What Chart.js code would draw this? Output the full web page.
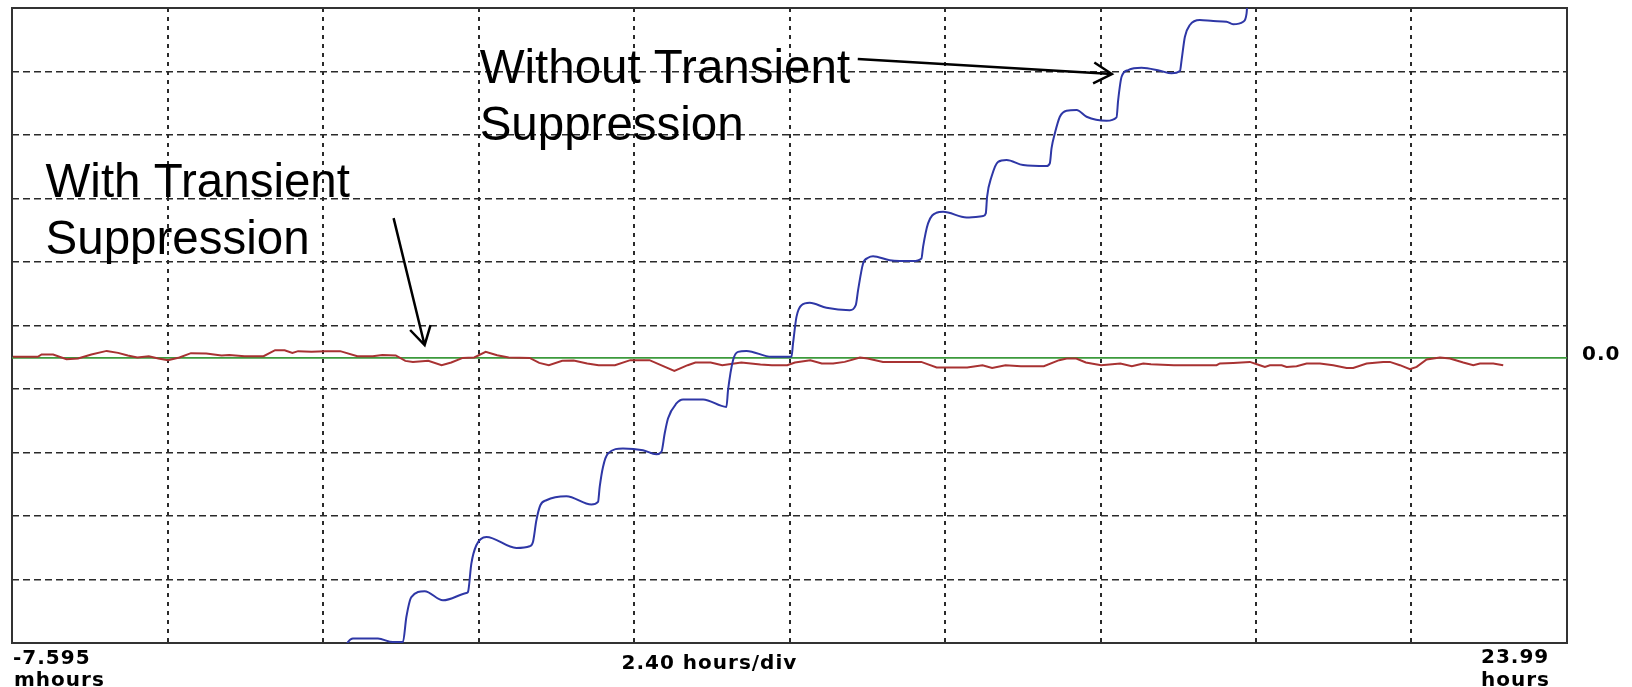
<!DOCTYPE html>
<html>
<head>
<meta charset="utf-8">
<script src="https://cdn.jsdelivr.net/npm/chart.js@4.4.1/dist/chart.umd.min.js"></script>
<style>
  html, body { margin: 0; padding: 0; background: #fff; }
  #wrap { width: 1632px; height: 687px; }
</style>
</head>
<body>
<div id="wrap"><canvas id="myChart" width="1632" height="687"></canvas></div>
<script>
// time axis in hours: -7.595 mhours .. 23.99 hours, 2.40 hours/div
const xStart = -0.007595;
const hoursPerDiv = 2.4;
const xDivs = 10;
// vertical axis in divisions, the 0.0 level sits 5.51 div below the top
const yTop = 5.51;
const yDivs = 10;

// without transient suppression (blue)
const blueHours = [5.141, 5.177, 5.254, 5.640, 5.872, 6.026, 6.079, 6.156, 6.361, 6.644,
  7.005, 7.030, 7.082, 7.159, 7.314, 7.777, 7.982, 8.033, 8.086, 8.147,
  8.240, 8.549, 8.935, 9.037, 9.063, 9.114, 9.191, 9.422, 9.731, 9.938,
  10.015, 10.066, 10.117, 10.247, 10.349, 10.658, 11.019, 11.044, 11.121, 11.198,
  11.328, 11.714, 12.022, 12.047, 12.100, 12.177, 12.305, 12.563, 12.923, 13.015,
  13.051, 13.128, 13.205, 13.282, 13.540, 13.900, 14.029, 14.054, 14.131, 14.261,
  14.363, 14.725, 14.981, 15.022, 15.042, 15.110, 15.212, 15.342, 15.598, 15.959,
  16.010, 16.037, 16.088, 16.165, 16.268, 16.423, 16.577, 16.886, 17.040, 17.065,
  17.118, 17.219, 17.426, 17.709, 17.889, 18.018, 18.044, 18.095, 18.172, 18.326,
  18.532, 18.738, 18.840, 18.995, 19.047, 19.059];
const blueLevel = [-4.542, -4.475, -4.421, -4.421, -4.475, -4.475, -4.081, -3.766, -3.676, -3.818,
  -3.703, -3.687, -3.239, -2.951, -2.820, -2.994, -2.967, -2.899, -2.557, -2.321,
  -2.242, -2.179, -2.310, -2.269, -2.032, -1.717, -1.506, -1.427, -1.454, -1.517,
  -1.481, -1.191, -0.955, -0.718, -0.655, -0.655, -0.772, -0.509, -0.036, 0.095,
  0.110, 0.016, 0.016, 0.227, 0.646, 0.830, 0.867, 0.788, 0.752, 0.830,
  1.067, 1.487, 1.576, 1.602, 1.539, 1.524, 1.566, 1.749, 2.118, 2.285,
  2.300, 2.212, 2.233, 2.275, 2.537, 2.852, 3.088, 3.115, 3.036, 3.020,
  3.063, 3.304, 3.536, 3.797, 3.892, 3.903, 3.797, 3.734, 3.788, 4.060,
  4.427, 4.533, 4.569, 4.522, 4.481, 4.517, 4.690, 5.058, 5.242, 5.321,
  5.305, 5.294, 5.253, 5.294, 5.426, 5.589];

// with transient suppression (red)
const redHours = [0.006, 0.391, 0.449, 0.627, 0.834, 1.011, 1.217, 1.454, 1.630, 1.779,
  1.927, 2.104, 2.251, 2.399, 2.577, 2.754, 2.991, 3.227, 3.344, 3.582,
  3.875, 4.053, 4.200, 4.320, 4.408, 4.615, 4.822, 5.058, 5.323, 5.560,
  5.708, 5.915, 6.063, 6.180, 6.417, 6.623, 6.772, 6.949, 7.127, 7.303,
  7.480, 7.658, 7.982, 8.130, 8.278, 8.485, 8.661, 8.870, 9.046, 9.299,
  9.535, 9.832, 10.008, 10.215, 10.421, 10.540, 10.776, 10.954, 11.249, 11.544,
  11.721, 11.958, 12.076, 12.313, 12.490, 12.666, 12.844, 13.080, 13.199, 13.435,
  13.613, 14.026, 14.263, 14.735, 14.971, 15.120, 15.326, 15.563, 15.918, 16.154,
  16.271, 16.419, 16.566, 16.803, 17.099, 17.276, 17.452, 17.571, 17.925, 18.584,
  18.635, 18.840, 19.098, 19.252, 19.330, 19.407, 19.588, 19.665, 19.819, 19.974,
  20.179, 20.384, 20.591, 20.693, 20.900, 21.156, 21.259, 21.414, 21.568, 21.672,
  21.826, 22.032, 22.186, 22.391, 22.546, 22.649, 22.854, 23.008];
const redLevel = [0.016, 0.016, 0.054, 0.054, -0.020, -0.009, 0.054, 0.110, 0.079, 0.038,
  0.006, 0.027, -0.009, -0.036, 0.006, 0.074, 0.069, 0.038, 0.047, 0.027,
  0.027, 0.121, 0.121, 0.079, 0.106, 0.095, 0.106, 0.106, 0.027, 0.027,
  0.047, 0.038, -0.047, -0.063, -0.047, -0.115, -0.072, 0, 0.006, 0.095,
  0.043, 0.006, 0, -0.079, -0.115, -0.047, -0.041, -0.088, -0.115, -0.115,
  -0.036, -0.036, -0.115, -0.205, -0.115, -0.072, -0.072, -0.115, -0.072, -0.104,
  -0.115, -0.115, -0.072, -0.036, -0.088, -0.088, -0.063, 0.006, -0.009, -0.063,
  -0.063, -0.063, -0.151, -0.151, -0.115, -0.158, -0.115, -0.131, -0.131, -0.036,
  -0.009, -0.009, -0.072, -0.115, -0.088, -0.131, -0.088, -0.099, -0.115, -0.115,
  -0.088, -0.079, -0.063, -0.115, -0.142, -0.115, -0.115, -0.142, -0.131, -0.088,
  -0.088, -0.115, -0.158, -0.158, -0.088, -0.063, -0.063, -0.115, -0.178, -0.142,
  -0.025, 0.006, -0.009, -0.072, -0.115, -0.088, -0.088, -0.115];

// reference level (green)
const zeroHours = [xStart, xStart + hoursPerDiv * xDivs];
const zeroLevel = [0, 0];

const startLabel = ["-7.595", "mhours"];
const divLabel = "2.40 hours/div";
const endLabel = ["23.99", "hours"];
const levelLabel = "0.0";

// callouts, anchored in data units
const notes = [
  { lines: ["With Transient", "Suppression"], x: 0.51, y: 2.532, from: [5.882, 2.201], to: [6.361, 0.200] },
  { lines: ["Without Transient", "Suppression"], x: 7.21, y: 4.328, from: [13.046, 4.706], to: [16.968, 4.470] }
];

function pairs(xs, ys) {
  return xs.map((x, i) => ({ x: x, y: ys[i] }));
}

const scopeDecor = {
  id: 'scopeDecor',
  beforeDatasetsDraw(chart) {
    const { ctx, chartArea: a } = chart;
    ctx.save();
    ctx.strokeStyle = '#333';
    ctx.lineWidth = 2;
    ctx.strokeRect(a.left, a.top, a.right - a.left, a.bottom - a.top);
    ctx.restore();
  },
  afterDatasetsDraw(chart) {
    const { ctx, chartArea: a, scales } = chart;
    const xs = scales.x, ys = scales.y;
    ctx.save();
    ctx.fillStyle = '#000';
    ctx.textBaseline = 'alphabetic';
    ctx.textAlign = 'left';

    // readouts round the screen
    ctx.font = 'bold 20px "DejaVu Sans"';
    ctx.letterSpacing = '1px';
    ctx.fillText(startLabel[0], a.left + 1, a.bottom + 21);
    ctx.fillText(startLabel[1], a.left + 2, a.bottom + 43);
    ctx.fillText(divLabel, (a.left + a.right) / 2 - 168, a.bottom + 26);
    ctx.fillText(endLabel[0], a.right - 86, a.bottom + 20);
    ctx.fillText(endLabel[1], a.right - 86, a.bottom + 43);
    ctx.fillText(levelLabel, a.right + 15, ys.getPixelForValue(0) + 2.5);

    // callout text and arrows
    ctx.letterSpacing = '0px';
    ctx.font = '47.5px "Liberation Sans"';
    ctx.strokeStyle = '#000';
    ctx.lineWidth = 2.5;
    notes.forEach(n => {
      const tx = xs.getPixelForValue(n.x), ty = ys.getPixelForValue(n.y);
      n.lines.forEach((s, i) => ctx.fillText(s, tx, ty + i * 56.5));
      const x1 = xs.getPixelForValue(n.from[0]), y1 = ys.getPixelForValue(n.from[1]);
      const x2 = xs.getPixelForValue(n.to[0]), y2 = ys.getPixelForValue(n.to[1]);
      const ang = Math.atan2(y2 - y1, x2 - x1);
      ctx.beginPath();
      ctx.moveTo(x1, y1);
      ctx.lineTo(x2, y2);
      ctx.moveTo(x2 - 21 * Math.cos(ang - Math.PI / 6), y2 - 21 * Math.sin(ang - Math.PI / 6));
      ctx.lineTo(x2, y2);
      ctx.lineTo(x2 - 21 * Math.cos(ang + Math.PI / 6), y2 - 21 * Math.sin(ang + Math.PI / 6));
      ctx.stroke();
    });
    ctx.restore();
  }
};

var myChart = new Chart('myChart', {
  type: 'line',
  data: {
    datasets: [{
      label: 'Without Transient Suppression',
      data: pairs(blueHours, blueLevel),
      borderColor: '#2e37a6',
      borderWidth: 2,
      pointRadius: 0,
      cubicInterpolationMode: 'monotone'
    }, {
      label: 'With Transient Suppression',
      data: pairs(redHours, redLevel),
      borderColor: '#a83232',
      borderWidth: 2,
      pointRadius: 0,
      tension: 0
    }, {
      label: 'Reference',
      data: pairs(zeroHours, zeroLevel),
      borderColor: '#3c9a3c',
      borderWidth: 1.6,
      pointRadius: 0
    }]
  },
  options: {
    responsive: false,
    animation: false,
    devicePixelRatio: 1,
    layout: { padding: { left: 12, top: 8, right: 65, bottom: 44 } },
    plugins: {
      legend: { display: false },
      tooltip: { enabled: false }
    },
    scales: {
      x: {
        type: 'linear',
        min: xStart,
        max: xStart + hoursPerDiv * xDivs,
        afterBuildTicks: function(scale) {
          var t = [];
          for (var k = 0; k <= xDivs; k++) t.push({ value: xStart + k * hoursPerDiv });
          scale.ticks = t;
        },
        ticks: { display: false },
        grid: { color: '#2a2a2a', lineWidth: 2, drawTicks: false },
        border: { display: false, dash: [4, 5] }
      },
      y: {
        type: 'linear',
        min: yTop - yDivs,
        max: yTop,
        afterBuildTicks: function(scale) {
          var t = [];
          for (var k = 0; k <= yDivs; k++) t.push({ value: yTop - k });
          scale.ticks = t;
        },
        ticks: { display: false },
        grid: { color: '#2a2a2a', lineWidth: 1.5, drawTicks: false },
        border: { display: false, dash: [7, 4] }
      }
    }
  },
  plugins: [scopeDecor]
});
</script>
</body>
</html>
